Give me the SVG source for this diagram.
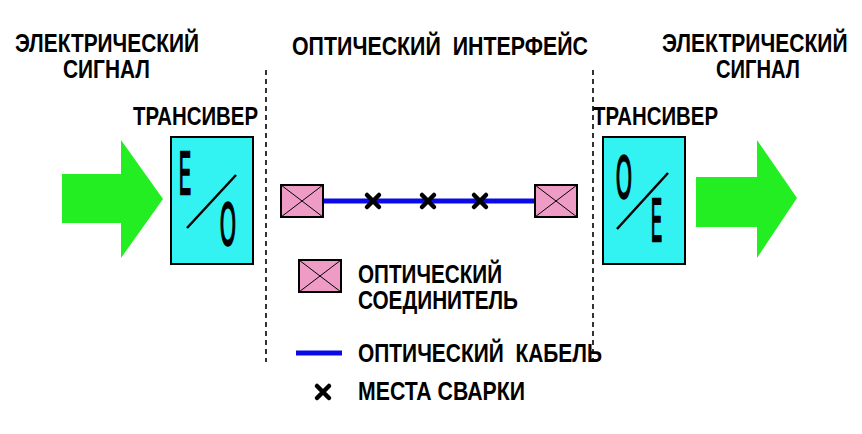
<svg xmlns="http://www.w3.org/2000/svg" width="862" height="434" viewBox="0 0 862 434">
<style>
.t{font-family:"Liberation Sans",Arial,sans-serif;font-weight:bold;font-size:25px;fill:#000;white-space:pre}
.g{font-family:"Liberation Sans",Arial,sans-serif;font-size:62px;fill:#000;stroke:#000;stroke-width:1.8;vector-effect:non-scaling-stroke}
.box{fill:#33F2F2;stroke:#000;stroke-width:2}
.arr{fill:#22EE22}
.dash{stroke:#000;stroke-width:1.6;stroke-dasharray:5 4;fill:none}
.conn{fill:#EE9CC6;stroke:#000;stroke-width:2}
.cx{stroke:#000;stroke-width:1;fill:none}
.weld{stroke:#000;stroke-width:4.5;stroke-linecap:round;fill:none}
.cable{stroke:#0A0AE6;stroke-width:5;fill:none}
.slash{stroke:#000;stroke-width:2.5;fill:none}
</style>
<rect width="862" height="434" fill="#fff"/>
<defs>
<g id="connIcon"><rect class="conn" x="0" y="0" width="42" height="32"/><path class="cx" d="M0 0L42 32M42 0L0 32"/></g>
<path id="wx" class="weld" d="M-6 -6L6 6M6 -6L-6 6"/>
</defs>

<g id="labels">
<text class="t" x="15" y="52" textLength="184" lengthAdjust="spacingAndGlyphs">ЭЛЕКТРИЧЕСКИЙ</text>
<text class="t" x="63" y="78" textLength="87" lengthAdjust="spacingAndGlyphs">СИГНАЛ</text>
<text class="t" x="292" y="55" textLength="296" lengthAdjust="spacingAndGlyphs" xml:space="preserve">ОПТИЧЕСКИЙ  ИНТЕРФЕЙС</text>
<text class="t" transform="translate(662,52) scale(0.8,1)" x="0" y="0" textLength="232" lengthAdjust="spacingAndGlyphs">ЭЛЕКТРИЧЕСКИЙ</text>
<text class="t" x="716" y="78" textLength="84" lengthAdjust="spacingAndGlyphs">СИГНАЛ</text>
</g>

<g id="dividers">
<line class="dash" x1="266" y1="70" x2="266" y2="362"/>
<line class="dash" x1="593" y1="70" x2="593" y2="362"/>
</g>

<g id="input-arrow">
<polygon class="arr" points="62,174 121,174 121,140 163,199 121,258 121,223 62,223"/>
</g>

<g id="transceiver-left">
<text class="t" x="133" y="125" textLength="125" lengthAdjust="spacingAndGlyphs">ТРАНСИВЕР</text>
<rect class="box" x="171" y="137" width="82" height="127"/>
<text class="g" transform="translate(179,194) scale(0.3,1)" x="0" y="0" textLength="40" lengthAdjust="spacingAndGlyphs">E</text>
<line class="slash" x1="187" y1="228" x2="236" y2="175"/>
<text class="g" transform="translate(220,245) scale(0.33,1)" x="0" y="0" textLength="48" lengthAdjust="spacingAndGlyphs">O</text>
</g>

<g id="transceiver-right">
<text class="t" x="593" y="125" textLength="125" lengthAdjust="spacingAndGlyphs">ТРАНСИВЕР</text>
<rect class="box" x="603" y="137" width="82" height="127"/>
<text class="g" transform="translate(616,198) scale(0.33,1)" x="0" y="0" textLength="48" lengthAdjust="spacingAndGlyphs">O</text>
<line class="slash" x1="617" y1="229" x2="668" y2="173"/>
<text class="g" transform="translate(651,241) scale(0.275,1)" x="0" y="0" textLength="40" lengthAdjust="spacingAndGlyphs">E</text>
</g>

<g id="output-arrow">
<polygon class="arr" points="696,177 757,177 757,140 797,198 757,258 757,227 696,227"/>
</g>

<g id="connectors">
<line class="cable" x1="323" y1="201" x2="535" y2="201"/>
<use href="#wx" x="373" y="201"/>
<use href="#wx" x="428" y="201"/>
<use href="#wx" x="480" y="201"/>
</g>

<g id="connector-left"><use href="#connIcon" x="281" y="185"/></g>
<g id="connector-right"><use href="#connIcon" x="535" y="185"/></g>

<g id="legend">
<use href="#connIcon" x="299" y="260"/>
<text class="t" x="358" y="283" textLength="144" lengthAdjust="spacingAndGlyphs">ОПТИЧЕСКИЙ</text>
<text class="t" x="358" y="309" textLength="160" lengthAdjust="spacingAndGlyphs">СОЕДИНИТЕЛЬ</text>
<line class="cable" x1="296" y1="353" x2="342" y2="353"/>
<text class="t" x="358" y="362" textLength="244" lengthAdjust="spacingAndGlyphs" xml:space="preserve">ОПТИЧЕСКИЙ  КАБЕЛЬ</text>
<use href="#wx" x="323" y="392"/>
<text class="t" x="358" y="400" textLength="167" lengthAdjust="spacingAndGlyphs">МЕСТА СВАРКИ</text>
</g>
</svg>
